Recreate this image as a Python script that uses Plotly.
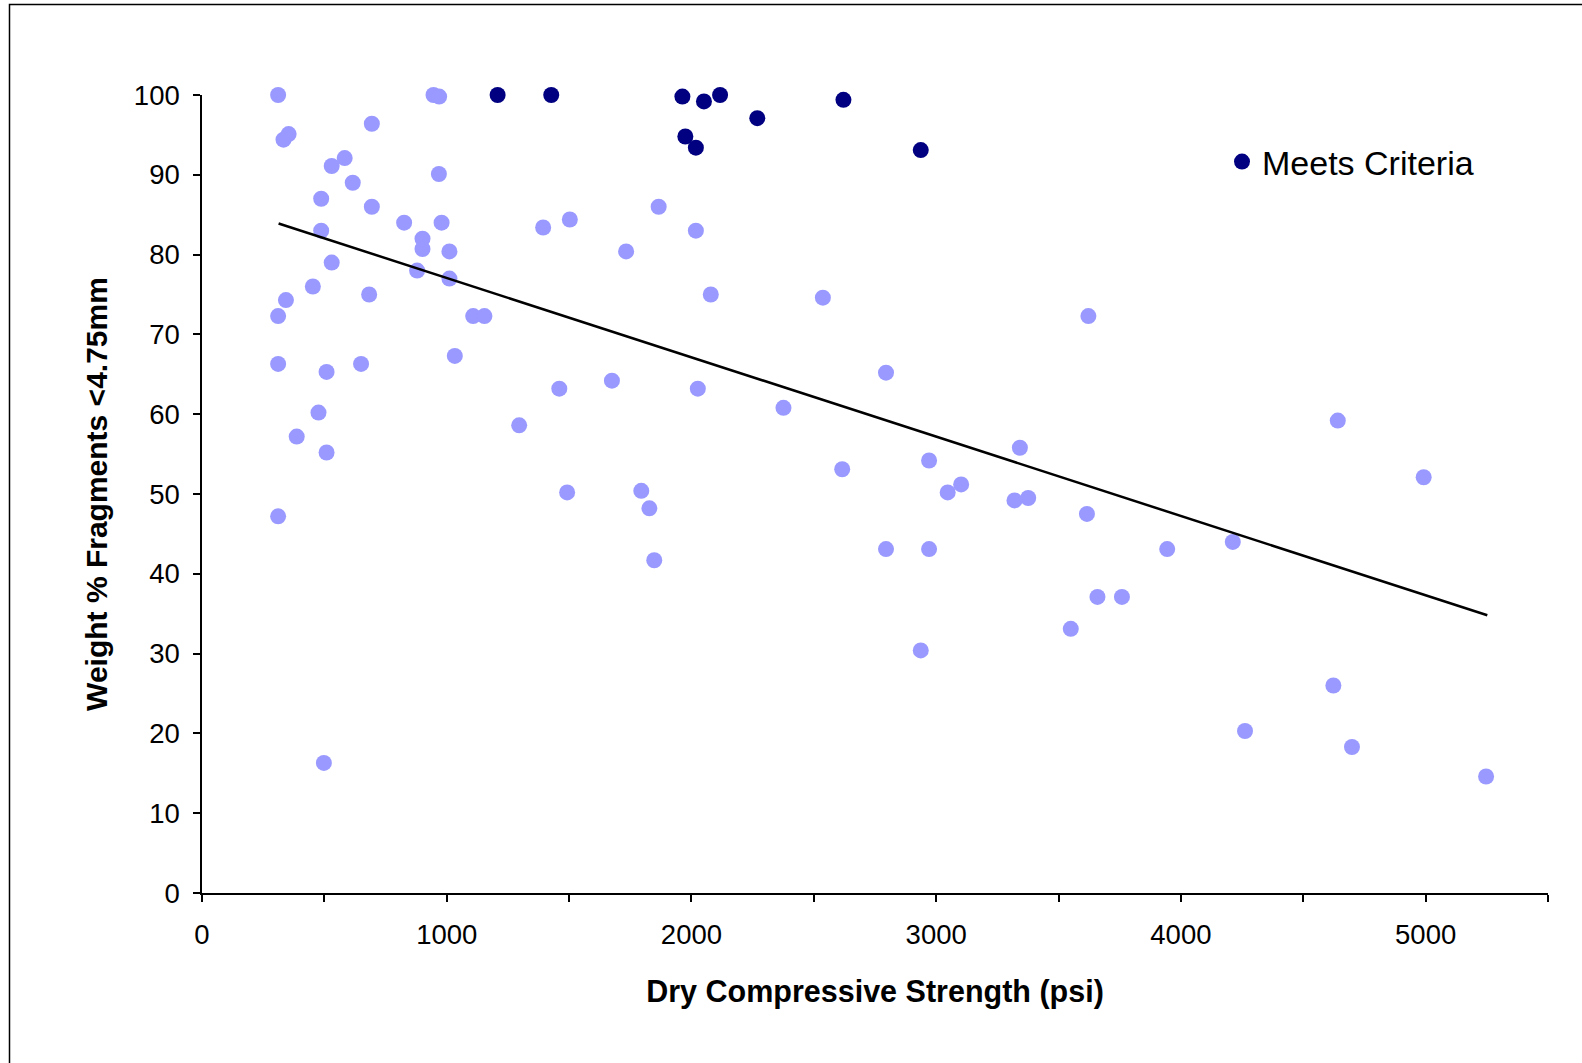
import plotly.graph_objects as go

# Light points (all samples)
light_x = [311, 333, 354, 311, 343, 311, 311, 387, 487, 487, 530, 583, 616, 530, 453, 509, 476, 509, 498, 650,
           683, 694, 694, 826, 879, 901, 901, 946, 969, 968, 979, 1011, 1011, 1033, 1108, 1154, 1296, 1394, 1460, 1492,
           1503, 1675, 1733, 1795, 1828, 1848, 1866, 2018, 2026, 2079, 2376, 2537, 2616, 2795, 2795, 2937, 2971, 2971, 3047, 3102,
           3320, 3376, 3342, 3550, 3616, 3622, 3659, 3759, 3944, 4212, 4262, 4623, 4641, 4699, 4992, 5247]
light_y = [100.0, 94.4, 95.1, 72.3, 74.3, 66.3, 47.2, 57.2, 87.0, 83.0, 91.1, 92.1, 89.0, 79.0, 76.0, 65.3, 60.2, 55.2, 16.3, 66.3,
           75.0, 86.0, 96.4, 84.0, 78.0, 82.0, 80.7, 100.0, 99.8, 90.1, 84.0, 80.4, 77.0, 67.3, 72.3, 72.3, 58.6, 83.4, 63.2, 50.2,
           84.4, 64.2, 80.4, 50.4, 48.2, 41.7, 86.0, 83.0, 63.2, 75.0, 60.8, 74.6, 53.1, 65.2, 43.1, 30.4, 54.2, 43.1, 50.2, 51.2,
           49.2, 49.5, 55.8, 33.1, 47.5, 72.3, 37.1, 37.1, 43.1, 44.0, 20.3, 26.0, 59.2, 18.3, 52.1, 14.6]

# Points that meet criteria
meets_x = [1208, 1427, 1963, 1975, 2018, 2051, 2117, 2269, 2621, 2937]
meets_y = [100.0, 100.0, 99.8, 94.8, 93.4, 99.2, 100.0, 97.1, 99.4, 93.1]

# Trend line end points
trend_x = [313, 5252]
trend_y = [83.9, 34.8]

x_tickvals = [0, 500, 1000, 1500, 2000, 2500, 3000, 3500, 4000, 4500, 5000, 5500]
x_ticktext = ["0", "", "1000", "", "2000", "", "3000", "", "4000", "", "5000", ""]
y_tickvals = [0, 10, 20, 30, 40, 50, 60, 70, 80, 90, 100]

FONT = "Arial, Liberation Sans, sans-serif"

fig = go.Figure()
fig.add_trace(go.Scatter(x=light_x, y=light_y, mode="markers", showlegend=False,
                         marker=dict(size=16, color="#9999FF", line=dict(width=0)),
                         cliponaxis=False, name="All"))
fig.add_trace(go.Scatter(x=trend_x, y=trend_y, mode="lines", showlegend=False,
                         line=dict(color="black", width=2.5), name="Trend"))
fig.add_trace(go.Scatter(x=meets_x, y=meets_y, mode="markers", name="Meets Criteria",
                         marker=dict(size=16, color="#000080", line=dict(width=0)),
                         cliponaxis=False))

L, R, T, B = 202, 34, 95, 170
W, H = 1582, 1063
pw = W - L - R
ph = H - T - B

def px_to_paper_x(px):
    return (px - L) / pw

def px_to_paper_y(py):
    return (H - B - py) / ph

fig.update_layout(
    width=W, height=H,
    margin=dict(l=L, r=R, t=T, b=B, pad=0),
    paper_bgcolor="white", plot_bgcolor="white",
    font=dict(family=FONT, color="black", size=27.5),
    xaxis=dict(range=[0, 5500], tickvals=x_tickvals, ticktext=x_ticktext,
               showline=True, linecolor="black", linewidth=1.5,
               ticks="outside", ticklen=7, tickwidth=1.5, tickcolor="black",
               showgrid=False, zeroline=False, ticklabelstandoff=9,
               tickfont=dict(size=27.5, family=FONT),
               title=dict(text="<b>Dry Compressive Strength (psi)</b>",
                          font=dict(size=30.5, family=FONT), standoff=32)),
    yaxis=dict(range=[0, 100], tickvals=y_tickvals,
               showline=True, linecolor="black", linewidth=1.5,
               ticks="outside", ticklen=7, tickwidth=1.5, tickcolor="black",
               showgrid=False, zeroline=False, ticklabelstandoff=8,
               tickfont=dict(size=27.5, family=FONT),
               title=dict(text="<b>Weight % Fragments <4.75mm</b>",
                          font=dict(size=30, family=FONT), standoff=17)),
    legend=dict(x=px_to_paper_x(1222), y=px_to_paper_y(162), xanchor="left", yanchor="middle",
                font=dict(size=34, family=FONT), bgcolor="rgba(0,0,0,0)", borderwidth=0),
    shapes=[dict(type="rect", xref="paper", yref="paper",
                 x0=px_to_paper_x(9.5), x1=px_to_paper_x(1600),
                 y0=px_to_paper_y(1080), y1=px_to_paper_y(4.5),
                 line=dict(color="black", width=1.5), layer="below")],
)

fig.write_html("out.html", config={"displayModeBar": False},
               post_script="document.body.style.margin='0px';document.body.style.padding='0px';")
